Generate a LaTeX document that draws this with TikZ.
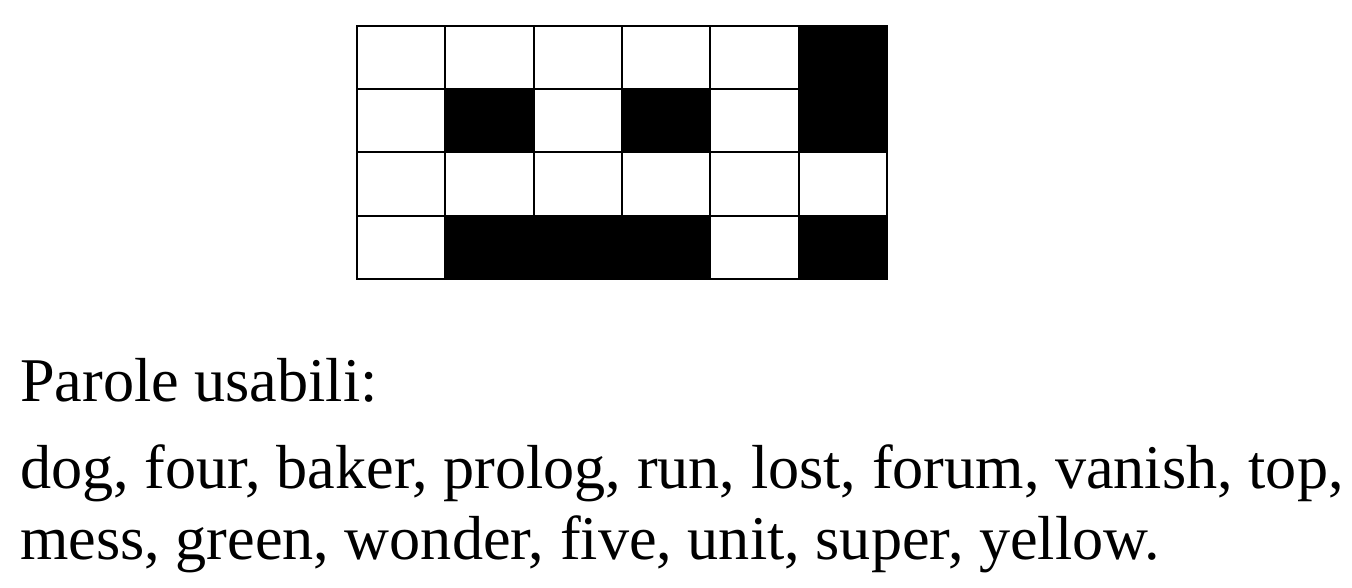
\documentclass[tikz,border=0pt]{standalone}
\usepackage{fontspec}
\setmainfont{Liberation Serif}
\begin{document}
\begin{tikzpicture}[x=1pt,y=-1pt,
  cellline/.style={line width=2pt, line cap=rect},
  txt/.style={anchor=base west, inner sep=0pt, font=\fontsize{62.2}{72}\selectfont}]
\useasboundingbox (0,0) rectangle (1352,588);
\foreach \r/\c in {0/5,1/1,1/3,1/5,3/1,3/2,3/3,3/5}
  \fill (357+\c*88.333, 26+\r*63.25) rectangle ++(88.333,63.25);
\foreach \i in {0,...,6}
  \draw[cellline] (357+\i*88.333,26) -- (357+\i*88.333,279);
\foreach \j in {0,...,4}
  \draw[cellline] (357,26+\j*63.25) -- (887,26+\j*63.25);
\node[txt] (title) at (20,401) {Parole usabili:};
\node[txt] (line1) at (20,488) {dog, four, baker, prolog, run, lost, forum, vanish, top,};
\node[txt] (line2) at (20,559) {mess, green, wonder, five, unit, super, yellow.};
\end{tikzpicture}
\end{document}
